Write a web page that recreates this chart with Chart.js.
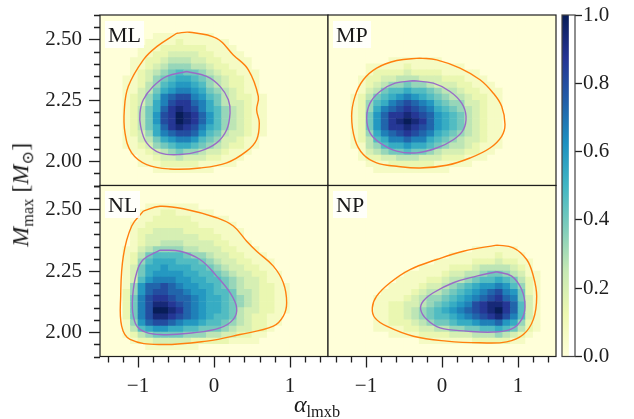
<!DOCTYPE html>
<html>
<head>
<meta charset="utf-8">
<script src="https://cdn.jsdelivr.net/npm/chart.js@4.4.0/dist/chart.umd.min.js"></script>
<style>
  body { margin: 0; width: 634px; height: 419px; overflow: hidden; position: relative; background: #fff;
         font-family: 'Liberation Serif', 'DejaVu Serif', serif; color: #1a1a1a; }
  canvas { position: absolute; left: 0; top: 0; }
  .tag { position: absolute; background: rgba(255,255,255,0.85); font-size: 22px; line-height: 27px; padding: 0 3px; }
  .lab { position: absolute; width: 220px; text-align: center; font-size: 24px; line-height: 30px; white-space: nowrap; }
  .sub { font-size: 0.68em; vertical-align: -0.28em; }
</style>
</head>
<body>
<canvas id="ml" width="634" height="419"></canvas>
<canvas id="mp" width="634" height="419"></canvas>
<canvas id="nl" width="634" height="419"></canvas>
<canvas id="np" width="634" height="419"></canvas>
<canvas id="cb" width="634" height="419"></canvas>

<div class="tag" style="left:105px;top:21px">ML</div>
<div class="tag" style="left:333px;top:21px">MP</div>
<div class="tag" style="left:105px;top:191px">NL</div>
<div class="tag" style="left:333px;top:191px">NP</div>
<div class="lab" style="left:-86px;top:176px;transform:rotate(-90deg)"><i>M</i><span class="sub">max</span> [<i>M</i><span class="sub">⊙</span>]</div>
<div class="lab" style="left:207px;top:389px"><i>α</i><span class="sub">lmxb</span></div>

<script>
// histogram bin edges
const alphaEdges = [-1.5, -1.4, -1.3, -1.2, -1.1, -1.0, -0.9, -0.8, -0.7, -0.6, -0.5, -0.4, -0.3, -0.2, -0.1, 0,
                    0.1, 0.2, 0.3, 0.4, 0.5, 0.6, 0.7, 0.8, 0.9, 1.0, 1.1, 1.2, 1.3, 1.4, 1.5];
const massEdges = [2.6, 2.575, 2.55, 2.525, 2.5, 2.475, 2.45, 2.425, 2.4, 2.375, 2.35, 2.325, 2.3, 2.275, 2.25,
                   2.225, 2.2, 2.175, 2.15, 2.125, 2.1, 2.075, 2.05, 2.025, 2.0, 1.975, 1.95, 1.925, 1.9];

// normalised density per cell, one hex digit per alpha bin (0 = 0, f = 1), rows from top (M = 2.6) down
const mlRows = [
  '', '', '',
  '000000011111111',
  '00000011112111111',
  '000001112222221111',
  '0000011223333221111',
  '00001122344433221111',
  '00001123455544322111',
  '000012345676654322111',
  '000112356788765432211',
  '000112457899875432211',
  '0001134689aa986543211',
  '00012357abcca976432211',
  '00012358acddba86433211',
  '00012468bdedca87543211',
  '00012469cdfedb97543211',
  '00012469cdfedb97543211',
  '00012468bdedca87543211',
  '00012358abccb976433211',
  '0001134689aa976533211',
  '000112356788765432211',
  '00001123456554332111',
  '0000011233433322111',
  '000001112222211111',
  '000000011111111',
  '', ''
];
const mpRows = [
  '', '', '', '', '', '', '',
  '000000001111111',
  '000001111121111111',
  '00000122223222211111',
  '000012233444333222111',
  '0000123455655433322111',
  '00001346778776544322111',
  '0001246789a987654432211',
  '00012578abcba9765533211',
  '0001258abcdcba876543211',
  '0001269bddedcb987643211',
  '0001269bdefedb987643211',
  '0001269bddedcb987643211',
  '0001258abcdcba876543211',
  '00012478aabaa8765433211',
  '00011457889887654432111',
  '0000134566766543332211',
  '000012233444333222111',
  '0000011122222211111',
  '0000001111111111',
  '', ''
];
const nlRows = [
  '', '', '',
  '0000001111111',
  '000001112211111',
  '00000112222211111',
  '000011222222211111',
  '0000122333322221111',
  '0000123333333222111',
  '00001233444333322111',
  '000113455554433322111',
  '0001246777765543322111',
  '00012578887776543322111',
  '00013688988877654332211',
  '000136899998877654332211',
  '0001379aaa99887765433211',
  '000159bbcba99887654332211',
  '000259bccbba9987764432211',
  '00026acddcbba988765432211',
  '00026aceedcba988765432211',
  '00026acffedba988764332211',
  '00026aceedcba98776432211',
  '000159bccba9987765432211',
  '00014789988776665433221',
  '0001245666655544332211',
  '000012233333222221111',
  '0000001111111',
  ''
];
const npRows = [
  '', '', '', '', '', '', '', '', '', '',
  '0000000000000000000111111',
  '00000000000000001111112111',
  '000000000000001111122232211',
  '000000000000111122234444321',
  '0000000000111112334456654311',
  '0000000001111223445677876421',
  '0000000011112334567899a97521',
  '00000001111234456789abca9621',
  '0000001111234556789abcdba631',
  '000000112233456789acdeedb731',
  '00000011223456789abcdefdb731',
  '000000112234567789abcdeca731',
  '00000011222345667889aab98521',
  '0000001111223344556677876421',
  '000000001111222233344454321',
  '00000000000011111112222211',
  '', ''
];

// contour levels: [alpha, M]
const mlOuter = [[-0.49, 2.525], [-0.32, 2.529], [0.035, 2.504], [0.254, 2.436], [0.452, 2.375], [0.583, 2.266],
  [0.561, 2.211], [0.596, 2.157], [0.561, 2.088], [0.43, 2.041], [0.167, 1.993], [-0.184, 1.972], [-0.579, 1.968],
  [-0.886, 1.986], [-1.083, 2.034], [-1.171, 2.116], [-1.18, 2.211], [-1.127, 2.307], [-0.93, 2.416], [-0.754, 2.47]];
const mlInner = [[-0.36, 2.368], [-0.096, 2.348], [0.079, 2.307], [0.189, 2.252], [0.211, 2.198], [0.167, 2.129],
  [0.035, 2.075], [-0.184, 2.041], [-0.447, 2.027], [-0.711, 2.034], [-0.886, 2.075], [-0.965, 2.143], [-0.974, 2.198],
  [-0.93, 2.252], [-0.798, 2.307], [-0.623, 2.348]];
const mpOuter = [[-0.289, 2.423], [-0.07, 2.416], [0.237, 2.382], [0.5, 2.334], [0.675, 2.279], [0.785, 2.225],
  [0.829, 2.15], [0.785, 2.102], [0.632, 2.054], [0.368, 2.013], [0.061, 1.983], [-0.289, 1.972], [-0.596, 1.979],
  [-0.86, 1.993], [-1.035, 2.027], [-1.145, 2.088], [-1.189, 2.184], [-1.145, 2.266], [-1.035, 2.334], [-0.86, 2.382],
  [-0.596, 2.413]];
const mpInner = [[-0.377, 2.33], [-0.114, 2.32], [0.105, 2.286], [0.259, 2.238], [0.316, 2.184], [0.281, 2.129],
  [0.149, 2.088], [-0.07, 2.054], [-0.333, 2.034], [-0.596, 2.041], [-0.816, 2.075], [-0.947, 2.116], [-0.991, 2.177],
  [-0.947, 2.238], [-0.816, 2.286], [-0.618, 2.32]];
const nlOuter = [[-0.93, 2.495], [-0.711, 2.515], [-0.36, 2.502], [0.035, 2.468], [0.254, 2.434], [0.43, 2.372],
  [0.561, 2.331], [0.781, 2.27], [0.912, 2.202], [0.956, 2.12], [0.912, 2.065], [0.781, 2.024], [0.342, 1.99],
  [-0.096, 1.963], [-0.711, 1.949], [-1.105, 1.97], [-1.215, 2.024], [-1.228, 2.147], [-1.193, 2.311], [-1.083, 2.434]];
const nlInner = [[-0.711, 2.335], [-0.447, 2.331], [-0.184, 2.297], [0.035, 2.229], [0.211, 2.161], [0.298, 2.099],
  [0.254, 2.052], [0.079, 2.017], [-0.272, 1.997], [-0.711, 1.99], [-0.974, 2.011], [-1.061, 2.065], [-1.07, 2.147],
  [-1.018, 2.243], [-0.93, 2.297]];
const npOuter = [[0.719, 2.356], [0.939, 2.345], [1.114, 2.297], [1.202, 2.229], [1.246, 2.147], [1.202, 2.052],
  [1.07, 1.99], [0.851, 1.96], [0.5, 1.956], [0.061, 1.963], [-0.377, 1.983], [-0.728, 2.024], [-0.882, 2.058],
  [-0.917, 2.099], [-0.86, 2.147], [-0.684, 2.202], [-0.421, 2.256], [-0.07, 2.297], [0.281, 2.331]];
const npInner = [[0.719, 2.247], [0.917, 2.229], [1.048, 2.174], [1.092, 2.106], [1.048, 2.052], [0.917, 2.013],
  [0.675, 2.0], [0.325, 2.004], [-0.026, 2.017], [-0.202, 2.052], [-0.281, 2.093], [-0.246, 2.127], [-0.114, 2.161],
  [0.149, 2.202], [0.456, 2.229]];

// ticks
const xTicks = [-1, 0, 1];
const xMinor = [-1.4, -1.2, -0.8, -0.6, -0.4, -0.2, 0.2, 0.4, 0.6, 0.8, 1.2, 1.4];
const yTicks = [2.0, 2.25, 2.5];
const yMinor = [1.9, 1.95, 2.05, 2.1, 2.15, 2.2, 2.3, 2.35, 2.4, 2.45, 2.55, 2.6];
const cbTicks = [0, 0.2, 0.4, 0.6, 0.8, 1.0];

const YlGnBu = ['#ffffd9', '#edf8b1', '#c7e9b4', '#7fcdbb', '#41b6c4', '#1d91c0', '#225ea8', '#253494', '#081d58'];
const rgb = YlGnBu.map(h => [1, 3, 5].map(k => parseInt(h.substr(k, 2), 16)));
function cmap(v) {
  const t = Math.max(0, Math.min(1, v)) * (rgb.length - 1);
  const k = Math.min(Math.floor(t), rgb.length - 2), f = t - k;
  const c = rgb[k].map((a, i) => Math.round(a + (rgb[k + 1][i] - a) * f));
  return `rgb(${c[0]},${c[1]},${c[2]})`;
}

const FONT = { family: "'Liberation Serif', 'DejaVu Serif', serif", size: 21 };
const INK = '#1f1f1f';
const W = 634, H = 419, Y_AXIS_W = 80, X_AXIS_H = 45;

function cells(rows) {
  const out = [];
  for (let j = 0; j < massEdges.length - 1; j++) {
    const s = (rows[j] || '').padEnd(alphaEdges.length - 1, '0');
    for (let i = 0; i < alphaEdges.length - 1; i++) {
      out.push({
        x: (alphaEdges[i] + alphaEdges[i + 1]) / 2,
        y: [massEdges[j + 1], massEdges[j]],
        v: parseInt(s[i], 16) / 15
      });
    }
  }
  return out;
}

const closed = pts => pts.concat([pts[0]]).map(p => ({ x: p[0], y: p[1] }));

const frame = {
  id: 'frame',
  beforeDatasetsDraw(chart) {
    const { ctx, chartArea: a } = chart;
    ctx.save(); ctx.fillStyle = YlGnBu[0]; ctx.fillRect(a.left, a.top, a.width, a.height); ctx.restore();
  },
  afterDraw(chart, args, opts) {
    const { ctx, chartArea: a, scales } = chart;
    ctx.save();
    ctx.strokeStyle = INK; ctx.lineWidth = 1.2;
    ctx.strokeRect(a.left, a.top, a.width, a.height);
    ctx.lineWidth = 1.3;
    ctx.beginPath();
    if (opts.showY) yMinor.forEach(v => {
      const y = Math.round(scales.y.getPixelForValue(v)) + 0.5;
      ctx.moveTo(a.left - 6, y); ctx.lineTo(a.left, y);
    });
    if (opts.showX) xMinor.forEach(v => {
      const x = Math.round(scales.x.getPixelForValue(v)) + 0.5;
      ctx.moveTo(x, a.bottom); ctx.lineTo(x, a.bottom + 6);
    });
    ctx.stroke();
    ctx.restore();
  }
};

function panel(id, rows, outer, inner, box, showX, showY) {
  const [l, t, r, b] = box;
  new Chart(document.getElementById(id), {
    type: 'bar',
    data: {
      datasets: [
        { type: 'line', data: closed(outer), borderColor: '#ff7f0e', borderWidth: 1.4, pointRadius: 0, tension: 0.4, fill: false, order: 1 },
        { type: 'line', data: closed(inner), borderColor: '#9a6bc7', borderWidth: 1.4, pointRadius: 0, tension: 0.4, fill: false, order: 1 },
        {
          data: cells(rows), order: 2, grouped: false,
          barPercentage: 1, categoryPercentage: 1, borderWidth: 0,
          backgroundColor: c => cmap(c.raw ? c.raw.v : 0)
        }
      ]
    },
    options: {
      responsive: false, animation: false, events: [],
      layout: { padding: { left: l - (showY ? Y_AXIS_W : 0), top: t, right: W - r, bottom: H - b - (showX ? X_AXIS_H : 0) } },
      scales: {
        x: {
          type: 'linear', min: -1.5, max: 1.5, offset: false, display: showX,
          grid: { offset: false, drawOnChartArea: false, tickLength: 11, tickWidth: 1.3, tickColor: INK },
          border: { display: false },
          afterBuildTicks: s => { s.ticks = xTicks.map(v => ({ value: v })); },
          afterFit: s => { s.height = showX ? X_AXIS_H : 0; s.paddingLeft = s.paddingRight = 0; },
          ticks: { autoSkip: false, maxRotation: 0, padding: 6, color: INK, font: FONT,
                   callback: v => String(v).replace('-', '\u2212') }
        },
        y: {
          type: 'linear', min: 1.9, max: 2.6, display: showY,
          grid: { drawOnChartArea: false, tickLength: 11, tickWidth: 1.3, tickColor: INK },
          border: { display: false },
          afterBuildTicks: s => { s.ticks = yTicks.map(v => ({ value: v })); },
          afterFit: s => { s.width = showY ? Y_AXIS_W : 0; s.paddingTop = s.paddingBottom = 0; },
          ticks: { autoSkip: false, padding: 7, color: INK, font: FONT, callback: v => v.toFixed(2) }
        }
      },
      plugins: { legend: { display: false }, tooltip: { enabled: false }, frame: { showX, showY } }
    },
    plugins: [frame]
  });
}

panel('ml', mlRows, mlOuter, mlInner, [100, 15, 328, 185.5], false, true);
panel('mp', mpRows, mpOuter, mpInner, [328, 15, 556, 185.5], false, false);
panel('nl', nlRows, nlOuter, nlInner, [100, 185.5, 328, 356.5], true, true);
panel('np', npRows, npOuter, npInner, [328, 185.5, 556, 356.5], true, false);

// colour bar
new Chart(document.getElementById('cb'), {
  type: 'bar',
  data: {
    labels: ['density'],
    datasets: [{
      data: [[0, 1]], barPercentage: 1, categoryPercentage: 1, borderWidth: 0,
      backgroundColor: c => {
        const ch = c.chart;
        if (!ch.chartArea) return YlGnBu[0];
        const y = ch.scales.y;
        const g = ch.ctx.createLinearGradient(0, y.getPixelForValue(0), 0, y.getPixelForValue(1));
        YlGnBu.forEach((col, k) => g.addColorStop(k / (YlGnBu.length - 1), col));
        return g;
      }
    }]
  },
  options: {
    responsive: false, animation: false, events: [],
    layout: { padding: { left: 562, top: 15, right: 0, bottom: H - 356.5 } },
    scales: {
      x: { display: false, offset: false },
      y: {
        position: 'right', min: 0, max: 1,
        grid: { drawOnChartArea: false, tickLength: 7, tickWidth: 1.3, tickColor: INK },
        border: { display: false },
        afterBuildTicks: s => { s.ticks = cbTicks.map(v => ({ value: v })); },
        afterFit: s => { s.width = 59; s.paddingTop = s.paddingBottom = 0; },
        ticks: { autoSkip: false, padding: 1, color: INK, font: FONT, callback: v => v.toFixed(1) }
      }
    },
    plugins: { legend: { display: false }, tooltip: { enabled: false } }
  },
  plugins: [{
    id: 'cbFrame',
    afterDraw(chart) {
      const { ctx, chartArea: a } = chart;
      ctx.save(); ctx.strokeStyle = '#444'; ctx.lineWidth = 1.2;
      ctx.strokeRect(a.left, a.top, a.width, a.height); ctx.restore();
    }
  }]
});
</script>
</body>
</html>
